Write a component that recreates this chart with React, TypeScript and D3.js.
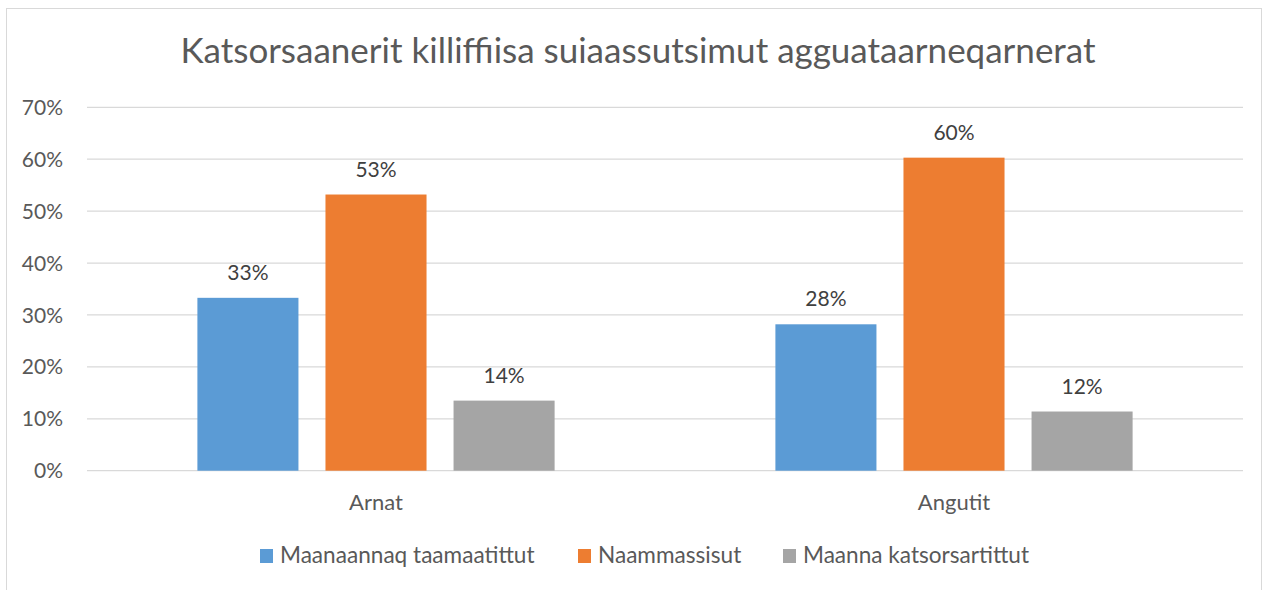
import React from "react";
import * as d3 from "d3";

const title = "Katsorsaanerit killiffiisa suiaassutsimut agguataarneqarnerat";
const categories = ["Arnat", "Angutit"];
const seriesNames = ["Maanaannaq taamaatittut", "Naammassisut", "Maanna katsorsartittut"];
const seriesColors = ["#5B9BD5", "#ED7D31", "#A5A5A5"];
// values per series, in order of categories
const maanaannaq = [0.333, 0.282];
const naammassisut = [0.532, 0.603];
const maanna = [0.135, 0.114];
const labels = [["33%", "28%"], ["53%", "60%"], ["14%", "12%"]];
const yTicks = [0, 0.1, 0.2, 0.3, 0.4, 0.5, 0.6, 0.7];

const W = 1272;
const H = 590;
const FONT = "Lato, 'Open Sans', sans-serif";

function App() {
    const values = [maanaannaq, naammassisut, maanna];

    const x0 = d3.scaleBand<string>()
        .domain(categories)
        .range([87, 1243])
        .paddingInner(0.382)
        .paddingOuter(0.191);

    const x1 = d3.scaleBand<string>()
        .domain(seriesNames)
        .range([0, x0.bandwidth()])
        .paddingInner(0.211);

    const y = d3.scaleLinear().domain([0, 0.7]).range([470.7, 107.3]);

    // legend swatch x positions
    const legendX = [260, 578, 783];

    return (
        <svg width={W} height={H} style={{ position: "absolute", left: 0, top: 0, background: "#fff" }} fontFamily={FONT}>
            <rect x={6.5} y={8.5} width={1255} height={600} fill="#fff" stroke="#D9D9D9" strokeWidth={1} />
            <text x={638} y={63} textAnchor="middle" fontSize={35} fill="#595959">{title}</text>

            {yTicks.map(t => (
                <g key={t}>
                    <line x1={87} x2={1243} y1={y(t)} y2={y(t)} stroke="#D9D9D9" strokeWidth={1.3} />
                    <text x={63} y={y(t)} dy="0.36em" textAnchor="end" fontSize={21} fill="#595959">
                        {d3.format(".0%")(t)}
                    </text>
                </g>
            ))}

            {categories.map((c, ci) => (
                <g key={c} transform={`translate(${x0(c)},0)`}>
                    {seriesNames.map((s, si) => {
                        const v = values[si][ci];
                        const bx = x1(s)!;
                        return (
                            <g key={s}>
                                <rect x={bx} y={y(v)} width={x1.bandwidth()} height={y(0) - y(v)} fill={seriesColors[si]} />
                                <text x={bx + x1.bandwidth() / 2} y={y(v) - 18} textAnchor="middle" fontSize={21} fill="#404040">
                                    {labels[si][ci]}
                                </text>
                            </g>
                        );
                    })}
                    <text x={x0.bandwidth() / 2} y={510} textAnchor="middle" fontSize={22} fill="#595959">{c}</text>
                </g>
            ))}

            {seriesNames.map((s, si) => (
                <g key={s} transform={`translate(${legendX[si]},549)`}>
                    <rect x={0} y={0} width={13} height={14} fill={seriesColors[si]} />
                    <text x={20} y={14} fontSize={22.6} fill="#595959">{s}</text>
                </g>
            ))}
        </svg>
    );
}

export default App;
